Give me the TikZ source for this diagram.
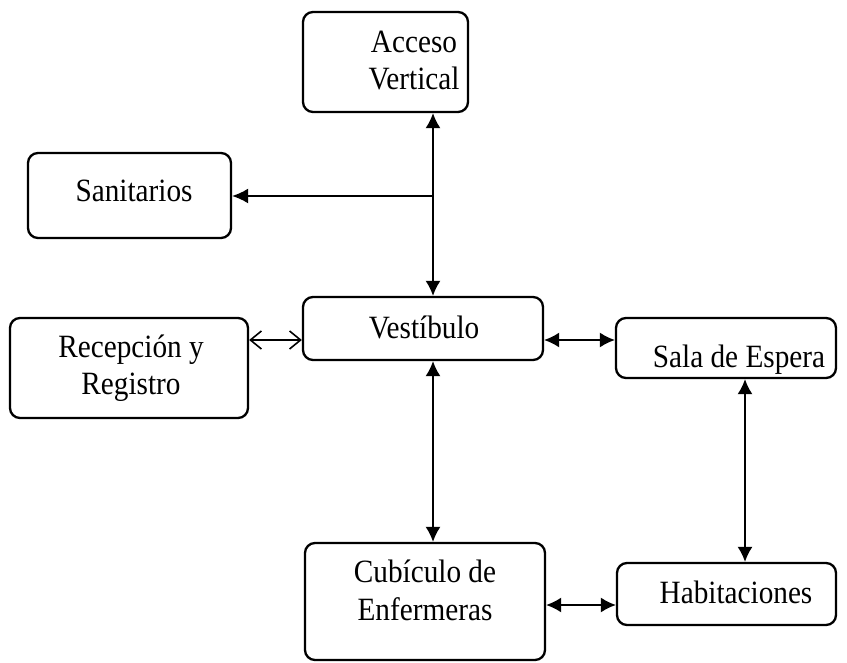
\documentclass[tikz,border=0pt]{standalone}
\usepackage{fontspec}
\setmainfont[FakeStretch=0.9]{Liberation Serif}
\usetikzlibrary{arrows.meta}
\begin{document}
\begin{tikzpicture}[x=1pt,y=-1pt,
  box/.style={draw,line width=2.3pt,rounded corners=10pt,inner sep=0pt},
  txt/.style={inner sep=0pt,anchor=base,align=center,font=\fontsize{32.5}{37.5}\selectfont},
  conn/.style={line width=1.6pt},
  dbl/.style={conn,{Latex[length=15pt,width=15pt]}-{Latex[length=15pt,width=15pt]}},
  sgl/.style={conn,-{Latex[length=16pt,width=15pt]}},
  opn/.style={conn,{Straight Barb[length=11pt,width=18pt]}-{Straight Barb[length=11pt,width=18pt]}}]
\useasboundingbox (0,0) rectangle (847,663);
\node[box,minimum width=165pt,minimum height=100pt] (acc) at (385.5,62) {};
\node[box,minimum width=203pt,minimum height=85pt] (san) at (129.5,195.5) {};
\node[box,minimum width=238pt,minimum height=100pt] (rec) at (129,368) {};
\node[box,minimum width=240pt,minimum height=63pt] (ves) at (423,328.5) {};
\node[box,minimum width=220pt,minimum height=60pt] (sala) at (726,348) {};
\node[box,minimum width=240pt,minimum height=117pt] (cub) at (425,601.5) {};
\node[box,minimum width=219pt,minimum height=62pt] (hab) at (726.5,594) {};
\node[txt] (tacc) at (414,90) {Acceso\\Vertical};
\node[txt] (tsan) at (134,202) {Sanitarios};
\node[txt] (trec) at (131,395) {Recepción y\\Registro};
\node[txt] (tves) at (424,338) {Vestíbulo};
\node[txt] (tsala) at (739,368) {Sala de Espera};
\node[txt] (tcub) at (425,620) {Cubículo de\\Enfermeras};
\node[txt] (thab) at (736,603) {Habitaciones};
\coordinate (j) at (433,196);
\coordinate (k) at (745,0);
\draw[dbl] (acc.south -| j) -- (ves.north -| j);
\draw[sgl] (j) -- (j -| san.east);
\draw[opn] (rec.east |- 0,340) -- (ves.west |- 0,340);
\draw[dbl] (ves.east |- 0,340) -- (sala.west |- 0,340);
\draw[dbl] (ves.south -| j) -- (cub.north -| j);
\draw[dbl] (sala.south -| k) -- (hab.north -| k);
\draw[dbl] (cub.east |- 0,605) -- (hab.west |- 0,605);
\end{tikzpicture}
\end{document}
